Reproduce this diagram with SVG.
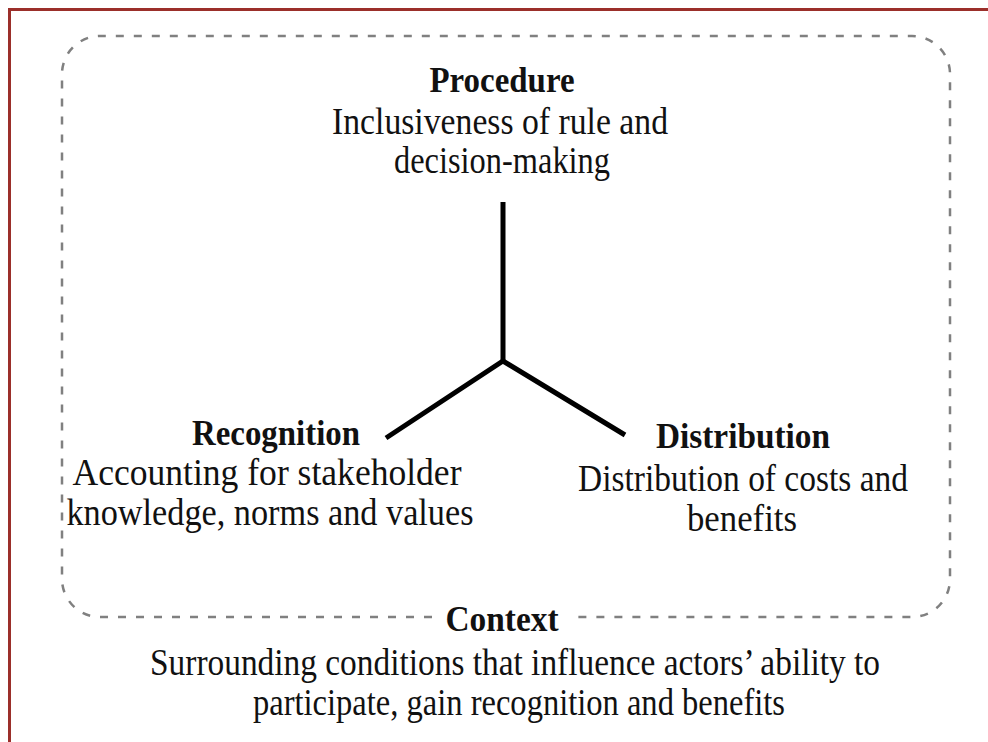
<svg xmlns="http://www.w3.org/2000/svg" width="988" height="742" viewBox="0 0 988 742">
  <style>
    text { font-family: "Liberation Serif", "Times New Roman", serif; fill: #111; text-anchor: middle; }
    .title { font-weight: bold; font-size: 36px; }
    .body { font-size: 37px; }
    .arm { stroke: #000; stroke-width: 5; stroke-linecap: butt; fill: none; }
    .frame { fill: none; stroke: #9b2f2a; stroke-width: 3; }
    .context-box { fill: none; stroke: #808080; stroke-width: 2.5; stroke-dasharray: 8 10; }
  </style>
  <rect width="988" height="742" fill="#fff"/>
  <rect class="frame" x="9.5" y="9.5" width="1000" height="760"/>

  <!-- dashed context boundary, open where the Context label sits -->
  <g id="context">
    <path class="context-box" d="M 432 617 H 100 A 38 38 0 0 1 62 579 V 74 A 38 38 0 0 1 100 36 H 912 A 38 38 0 0 1 950 74 V 579 A 38 38 0 0 1 912 617 H 574"/>
    <text class="title" x="502" y="631" textLength="113" lengthAdjust="spacingAndGlyphs">Context</text>
    <text class="body" x="515" y="675" textLength="730" lengthAdjust="spacingAndGlyphs">Surrounding conditions that influence actors’ ability to</text>
    <text class="body" x="519" y="715" textLength="532" lengthAdjust="spacingAndGlyphs">participate, gain recognition and benefits</text>
  </g>

  <!-- three arms meeting at a common point -->
  <g id="connectors">
    <line class="arm" x1="503" y1="202" x2="503" y2="361"/>
    <polyline class="arm" points="386,438 503,361 625,435" stroke-linejoin="miter"/>
  </g>

  <g id="procedure">
    <text class="title" x="502" y="92" textLength="145" lengthAdjust="spacingAndGlyphs">Procedure</text>
    <text class="body" x="500" y="134" textLength="336" lengthAdjust="spacingAndGlyphs">Inclusiveness of rule and</text>
    <text class="body" x="502" y="173" textLength="216" lengthAdjust="spacingAndGlyphs">decision-making</text>
  </g>

  <g id="recognition">
    <text class="title" x="276" y="445" textLength="168" lengthAdjust="spacingAndGlyphs">Recognition</text>
    <text class="body" x="267" y="485" textLength="389" lengthAdjust="spacingAndGlyphs">Accounting for stakeholder</text>
    <text class="body" x="270" y="525" textLength="407" lengthAdjust="spacingAndGlyphs">knowledge, norms and values</text>
  </g>

  <g id="distribution">
    <text class="title" x="743" y="448" textLength="174" lengthAdjust="spacingAndGlyphs">Distribution</text>
    <text class="body" x="743" y="491" textLength="330" lengthAdjust="spacingAndGlyphs">Distribution of costs and</text>
    <text class="body" x="742" y="531" textLength="110" lengthAdjust="spacingAndGlyphs">benefits</text>
  </g>
</svg>
